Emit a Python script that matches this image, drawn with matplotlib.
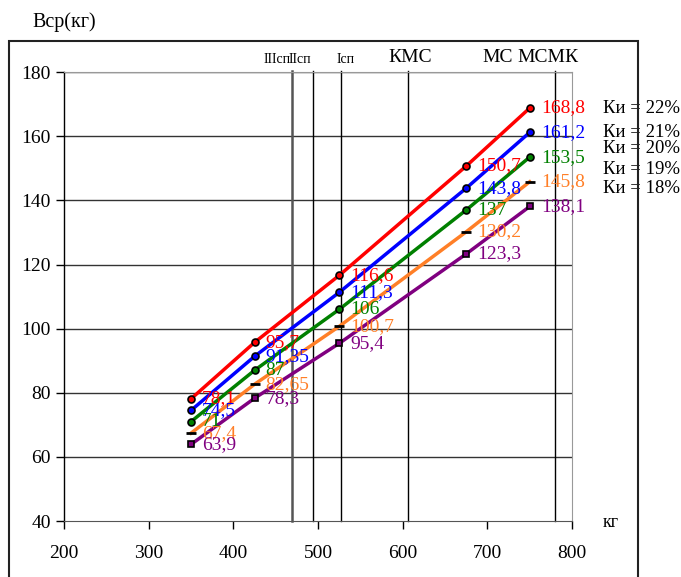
import matplotlib.pyplot as plt
from matplotlib.patches import Rectangle

plt.rcParams['font.family'] = ['Liberation Serif', 'DejaVu Serif']

# масса спортсмена, кг
x = [350, 425, 525, 675, 750]

ki = ['Ки = 22%', 'Ки = 21%', 'Ки = 20%', 'Ки = 19%', 'Ки = 18%']
vals = [
    [78.1, 95.7, 116.6, 150.7, 168.8],
    [74.5, 91.35, 111.3, 143.8, 161.2],
    [71, 87, 106, 137, 153.5],
    [67.4, 82.65, 100.7, 130.2, 145.8],
    [63.9, 78.3, 95.4, 123.3, 138.1],
]
labels = [
    ['78,1', '95,7', '116,6', '150,7', '168,8'],
    ['74,5', '91,35', '111,3', '143,8', '161,2'],
    ['71', '87', '106', '137', '153,5'],
    ['67,4', '82,65', '100,7', '130,2', '145,8'],
    ['63,9', '78,3', '95,4', '123,3', '138,1'],
]
ki_y = [168.8, 161.3, 156.3, 149.7, 143.8]

razr = ['IIIсп', 'IIсп', 'Iсп', 'КМС', 'МС', 'МСМК']
razr_x = [452, 479, 532, 609, 712, 771]
razr_lines = [469, 494, 527, 606, 780]

colors = ['#ff0000', '#0000ff', '#008000', '#ff7f27', '#800080']
markers = ['o', 'o', 'o', '_', 's']

fig = plt.figure(figsize=(6.81, 5.77), dpi=100)
ax = fig.add_axes([0.094, 0.097, 0.746, 0.778])

fig.patches.append(Rectangle((0.013, -0.01), 0.924, 0.939, transform=fig.transFigure,
                             fill=False, edgecolor='#222222', lw=1.5))

for yy in range(60, 181, 20):
    ax.axhline(yy, color='#333333', lw=1, zorder=1)
for i, xv in enumerate(razr_lines):
    ax.plot([xv, xv], [40, 180.5], color='#555555' if i == 0 else 'black',
            lw=1.8 if i == 0 else 1, zorder=1, clip_on=False)

for k in range(5):
    ax.plot(x, vals[k], color=colors[k], lw=2.5, zorder=2)
    if markers[k] == '_':
        ax.plot(x, vals[k], ls='none', marker='_', color='black', ms=7, mew=2, zorder=3)
    else:
        ax.plot(x, vals[k], ls='none', marker=markers[k], mfc=colors[k], mec='black',
                ms=5, mew=1.2, zorder=3)
    for xv, yv, t in zip(x, vals[k], labels[k]):
        ax.annotate(t, (xv, yv), xytext=(8, 0), textcoords='offset points',
                    va='center', ha='left', color=colors[k], fontsize=14)
    ax.text(836, ki_y[k], ki[k], fontsize=13.5, va='center', ha='left', clip_on=False)

for t, xv in zip(razr, razr_x):
    fs = 10 if 'сп' in t else 14
    ax.text(xv, 182, t, fontsize=fs, ha='center', va='bottom', clip_on=False)

ax.set_xlim(200, 800)
ax.set_ylim(40, 180)
ax.set_xticks(range(200, 801, 100))
ax.set_yticks(range(40, 181, 20))
ax.tick_params(axis='both', labelsize=14, direction='out', length=6, width=1)
ax.tick_params(axis='x', pad=11)
for s in ['top', 'right']:
    ax.spines[s].set_color('#999999')
ax.spines['left'].set_linewidth(1)
ax.spines['bottom'].set_color('#555555')

fig.text(0.048, 0.962, 'Вср(кг)', fontsize=14.5, ha='left', va='center')
fig.text(0.885, 0.094, 'кг', fontsize=13, ha='left', va='center')

fig.savefig('out.png', dpi=100)
